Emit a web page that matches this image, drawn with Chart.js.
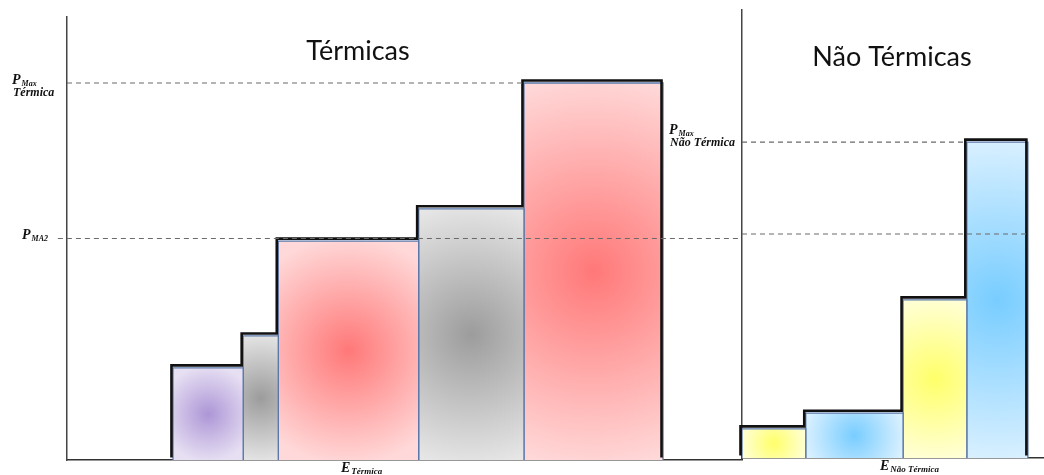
<!DOCTYPE html>
<html>
<head>
<meta charset="utf-8">
<script src="https://cdn.jsdelivr.net/npm/chart.js@4.4.0/dist/chart.umd.min.js"></script>
<style>
  html, body { margin: 0; padding: 0; background: #ffffff; }
  body { width: 1044px; height: 475px; position: relative; overflow: hidden; }
  #wrapThermal { position: absolute; left: 0; top: 0; width: 745px; height: 475px; }
  #wrapNonThermal { position: absolute; left: 660px; top: 0; width: 384px; height: 475px; }
</style>
</head>
<body>
<div id="wrapThermal"><canvas id="thermal"></canvas></div>
<div id="wrapNonThermal"><canvas id="nonThermal"></canvas></div>
<script>
// ---------- data ----------
// thermal blocks, stacked along the energy axis in merit order
const thermalStart  = 15.7;
const thermalWidths = [10.4, 5.2, 20.8, 15.6, 20.6];
const thermalPower  = [20.8, 28.0, 49.4, 56.7, 85.1];
const thermalFill   = ['purple', 'gray', 'red', 'gray', 'red'];

// non-thermal blocks
const nonThermalStart  = 0;
const nonThermalWidths = [9.5, 14.5, 9.5, 9.1];
const nonThermalPower  = [6.5, 10.0, 35.3, 70.5];
const nonThermalFill   = ['yellow', 'blue', 'yellow', 'blue'];

// reference power levels
const pMA2 = 50;
const pMaxThermal = thermalPower[thermalPower.length - 1];
const pMaxNonThermal = nonThermalPower[nonThermalPower.length - 1];

// axis ranges
const thermalEnergyMax = 100;
const nonThermalEnergyMax = 45;
const powerMax = 100;
// the P_MA2 level starts a little before the power axis
const ma2Lead = -1.35;

// ---------- styling ----------
const palette = {
  purple: ['#ad96d6', '#e7e0f3'],
  gray:   ['#9c9c9c', '#e6e6e6'],
  red:    ['#ff7878', '#ffd9d9'],
  yellow: ['#ffff6a', '#ffffd8'],
  blue:   ['#78cdff', '#dcf1ff']
};
const blockBorder = '#5b78aa';
const dashColor = '#6a6a6a';

function buildBlocks(start, widths, power, fills) {
  const blocks = [];
  let x = start;
  widths.forEach((w, i) => {
    blocks.push({ x0: x, x1: x + w, power: power[i], fill: fills[i] });
    x += w;
  });
  return blocks;
}

function blockGradient(chart, b) {
  const xs = chart.scales.x, ys = chart.scales.y;
  const l = xs.getPixelForValue(b.x0), r = xs.getPixelForValue(b.x1);
  const t = ys.getPixelForValue(b.power), bt = ys.getPixelForValue(0);
  const cx = (l + r) / 2, cy = (t + bt) / 2;
  const rad = Math.max(r - l, bt - t) / 2 * 1.05;
  const g = chart.ctx.createRadialGradient(cx, cy, 0, cx, cy, rad);
  const c = palette[b.fill];
  g.addColorStop(0, c[0]);
  g.addColorStop(1, c[1]);
  return g;
}

function blockDatasets(blocks) {
  return blocks.map(b => ({
    data: [{ x: b.x0, y: 0 }, { x: b.x0, y: b.power }, { x: b.x1, y: b.power }, { x: b.x1, y: 0 }],
    fill: 'origin',
    backgroundColor: ctx => ctx.chart.chartArea ? blockGradient(ctx.chart, b) : palette[b.fill][1],
    borderColor: blockBorder,
    borderWidth: 1.3,
    pointRadius: 0,
    order: 2
  }));
}

// staircase outline along the tops of the blocks
function outlineDataset(blocks) {
  const pts = [{ x: blocks[0].x0, y: 0 }];
  blocks.forEach(b => {
    pts.push({ x: b.x0, y: b.power });
    pts.push({ x: b.x1, y: b.power });
  });
  pts.push({ x: blocks[blocks.length - 1].x1, y: 0 });
  return {
    data: pts, fill: false, borderColor: '#111111', borderWidth: 2.6,
    pointRadius: 0, order: 1, clip: false, isOutline: true
  };
}

function dashedLevel(x0, x1, level) {
  return {
    data: [{ x: x0, y: level }, { x: x1, y: level }],
    fill: false, borderColor: dashColor, borderWidth: 1.2, borderDash: [5, 4],
    pointRadius: 0, order: 0, clip: false
  };
}

// shifts the staircase slightly outward from the block edges
const outlineShift = {
  id: 'outlineShift',
  beforeDatasetDraw(chart, args) {
    if (chart.data.datasets[args.index].isOutline) {
      chart.ctx.save();
      chart.ctx.translate(-1.5, -2.5);
    }
  },
  afterDatasetDraw(chart, args) {
    if (chart.data.datasets[args.index].isOutline) chart.ctx.restore();
  }
};

const serifBold = (size) => 'italic bold ' + size + 'px "Liberation Serif", "DejaVu Serif", serif';

function drawSubscripted(ctx, x, y, main, sub, mainSize, subSize) {
  ctx.font = serifBold(mainSize);
  ctx.fillText(main, x, y);
  const w = ctx.measureText(main).width;
  ctx.font = serifBold(subSize);
  ctx.fillText(sub, x + w + 1, y + 2);
}

// titles, power level notes and energy axis caption
const notes = {
  id: 'notes',
  afterDraw(chart, args, o) {
    const ctx = chart.ctx, a = chart.chartArea, ys = chart.scales.y;
    ctx.save();
    ctx.fillStyle = '#111111';
    ctx.textBaseline = 'alphabetic';
    ctx.textAlign = 'center';
    ctx.font = o.title.size + 'px Lato, "Open Sans", sans-serif';
    ctx.fillText(o.title.text, a.left + o.title.dx, o.title.y);
    ctx.textAlign = 'left';
    o.levels.forEach(m => {
      const py = ys.getPixelForValue(m.value);
      drawSubscripted(ctx, a.left + m.dx, py + m.dy, 'P', m.sub, 14, 8);
      if (m.second) {
        ctx.font = serifBold(12);
        ctx.fillText(m.second, a.left + m.dx + 1, py + m.dy + 12);
      }
    });
    drawSubscripted(ctx, a.left + o.energy.dx, a.bottom + 12, 'E', o.energy.sub, 14, 9);
    ctx.restore();
  }
};

function baseOptions(padding, xMax, noteOpts) {
  return {
    responsive: false,
    animation: false,
    events: [],
    layout: { padding },
    scales: {
      x: {
        type: 'linear', min: 0, max: xMax,
        ticks: { display: false },
        grid: { display: false, drawTicks: false },
        border: { display: true, color: '#333333', width: 1.5 }
      },
      y: {
        type: 'linear', min: 0, max: powerMax,
        ticks: { display: false },
        grid: { display: false, drawTicks: false },
        border: { display: true, color: '#444444', width: 1.5 }
      }
    },
    plugins: {
      legend: { display: false },
      tooltip: { enabled: false },
      notes: noteOpts
    }
  };
}

// ---------- thermal panel ----------
const thermalBlocks = buildBlocks(thermalStart, thermalWidths, thermalPower, thermalFill);
const thermalCanvas = document.getElementById('thermal');
thermalCanvas.width = 745; thermalCanvas.height = 475;
new Chart(thermalCanvas, {
  type: 'line',
  data: {
    datasets: [
      dashedLevel(0, thermalBlocks[thermalBlocks.length - 1].x0, pMaxThermal),
      dashedLevel(ma2Lead, thermalEnergyMax, pMA2),
      outlineDataset(thermalBlocks),
      ...blockDatasets(thermalBlocks)
    ]
  },
  options: baseOptions({ left: 67, top: 17, right: 3, bottom: 15 }, thermalEnergyMax, {
    title: { text: 'Térmicas', size: 27, dx: 291, y: 60 },
    levels: [
      { value: pMaxThermal, sub: 'Max', second: 'Térmica', dx: -55, dy: 1 },
      { value: pMA2, sub: 'MA2', dx: -45, dy: 0 }
    ],
    energy: { sub: 'Térmica', dx: 274 }
  }),
  plugins: [outlineShift, notes]
});

// ---------- non-thermal panel ----------
const nonThermalBlocks = buildBlocks(nonThermalStart, nonThermalWidths, nonThermalPower, nonThermalFill);
const nonThermalCanvas = document.getElementById('nonThermal');
nonThermalCanvas.width = 384; nonThermalCanvas.height = 475;
new Chart(nonThermalCanvas, {
  type: 'line',
  data: {
    datasets: [
      dashedLevel(0, nonThermalBlocks[nonThermalBlocks.length - 1].x0, pMaxNonThermal),
      dashedLevel(0, nonThermalBlocks[nonThermalBlocks.length - 1].x1, pMA2),
      outlineDataset(nonThermalBlocks),
      ...blockDatasets(nonThermalBlocks)
    ]
  },
  options: baseOptions({ left: 82, top: 10, right: 0, bottom: 17 }, nonThermalEnergyMax, {
    title: { text: 'Não Térmicas', size: 27, dx: 150, y: 66 },
    levels: [
      { value: pMaxNonThermal, sub: 'Max', second: 'Não Térmica', dx: -73, dy: -8 }
    ],
    energy: { sub: 'Não Térmica', dx: 138 }
  }),
  plugins: [outlineShift, notes]
});
</script>
</body>
</html>
